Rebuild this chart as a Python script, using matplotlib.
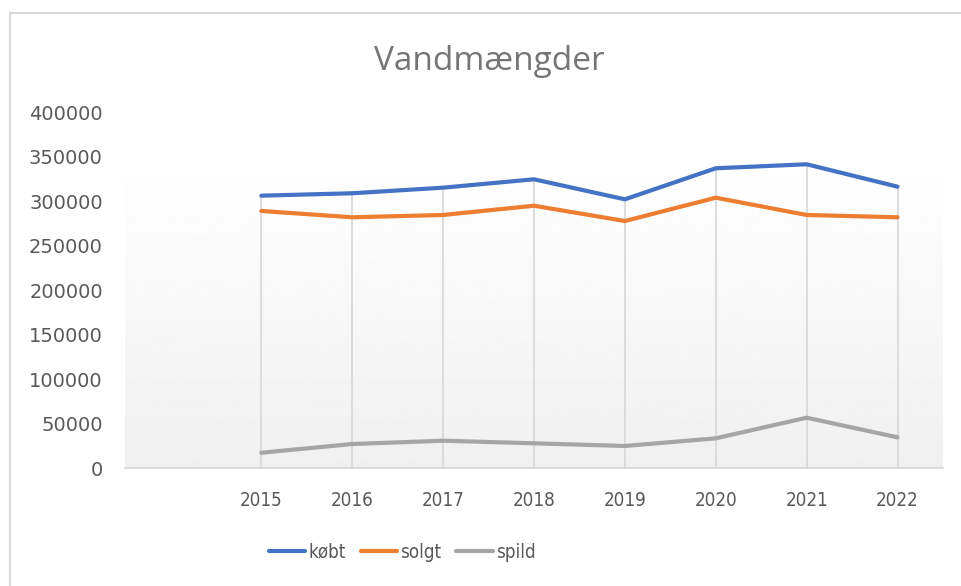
import numpy as np
import matplotlib.pyplot as plt
from matplotlib.patches import Rectangle
from matplotlib.lines import Line2D
from matplotlib.font_manager import FontProperties

years = [2015, 2016, 2017, 2018, 2019, 2020, 2021, 2022]
koebt = [306500, 309200, 315500, 324900, 302400, 337300, 341800, 316600]
solgt = [289300, 282200, 284800, 295200, 278000, 304200, 284800, 282200]
spild = [17500, 27300, 31000, 28100, 25100, 33700, 56900, 34800]

series_names = ['købt', 'solgt', 'spild']
colors = ['#4472C4', '#ED7D31', '#A5A5A5']

# narrow font for years and legend (Excel renders these squeezed)
narrow_fp = FontProperties(family='DejaVu Sans', stretch='condensed', size=13.5)

fig = plt.figure(figsize=(9.62, 5.86), dpi=100)
fig.patch.set_facecolor('white')

# chart border, only left and top are inside the crop
fig.patches.append(Rectangle((10 / 962, -0.1), 1.2, 1 - 13 / 586 + 0.1,
                             transform=fig.transFigure, fill=False,
                             edgecolor='#d9d9d9', linewidth=1.5))

ax = fig.add_axes([125 / 962, 1 - 468.3 / 586, (943 - 125) / 962, (468.3 - 112.5) / 586])

# one empty category in front of 2015, like the source sheet
x = np.arange(1, len(years) + 1)
ax.set_xlim(-0.5, len(years) + 0.5)
ax.set_ylim(0, 400000)

# plot area gradient
grad = np.linspace(0.94, 1.0, 256).reshape(-1, 1)
ax.imshow(grad, cmap='gray', vmin=0, vmax=1, aspect='auto',
          extent=[-0.5, len(years) + 0.5, 0, 350000], origin='lower', zorder=0)

# drop lines from the highest series down to the axis
tops = np.maximum.reduce([koebt, solgt, spild])
ax.vlines(x, 0, tops, color='#d9d9d9', linewidth=1.3, zorder=1)

for vals, name, c in zip([koebt, solgt, spild], series_names, colors):
    ax.plot(x, vals, color=c, linewidth=3.0, solid_capstyle='round',
            solid_joinstyle='round', label=name, zorder=3)

for s in ['top', 'right', 'left']:
    ax.spines[s].set_visible(False)
ax.spines['bottom'].set_color('#d9d9d9')
ax.spines['bottom'].set_linewidth(1.3)

ax.set_yticks(np.arange(0, 400001, 50000))
ax.set_yticklabels([str(v) for v in range(0, 400001, 50000)],
                   fontsize=14, color='#595959', family='DejaVu Sans')
ax.set_xticks(x)
ax.set_xticklabels([str(y) for y in years], color='#595959', fontproperties=narrow_fp)
ax.tick_params(axis='y', length=0, pad=16)
ax.tick_params(axis='x', length=0, pad=16)

fig.text(489 / 962, 1 - 70 / 586, 'Vandmængder', ha='center', va='baseline',
         fontsize=24, color='#757575', family=['Open Sans', 'DejaVu Sans'])

handles = [Line2D([0], [0], color=c, linewidth=3.0, solid_capstyle='round') for c in colors]
fig.legend(handles, series_names, loc='center', bbox_to_anchor=(402 / 962, 1 - 552 / 586),
           ncol=3, frameon=False, handlelength=1.95, handletextpad=0.16,
           columnspacing=0.8, prop=narrow_fp, labelcolor='#595959')

fig.savefig('out.png', dpi=100)
